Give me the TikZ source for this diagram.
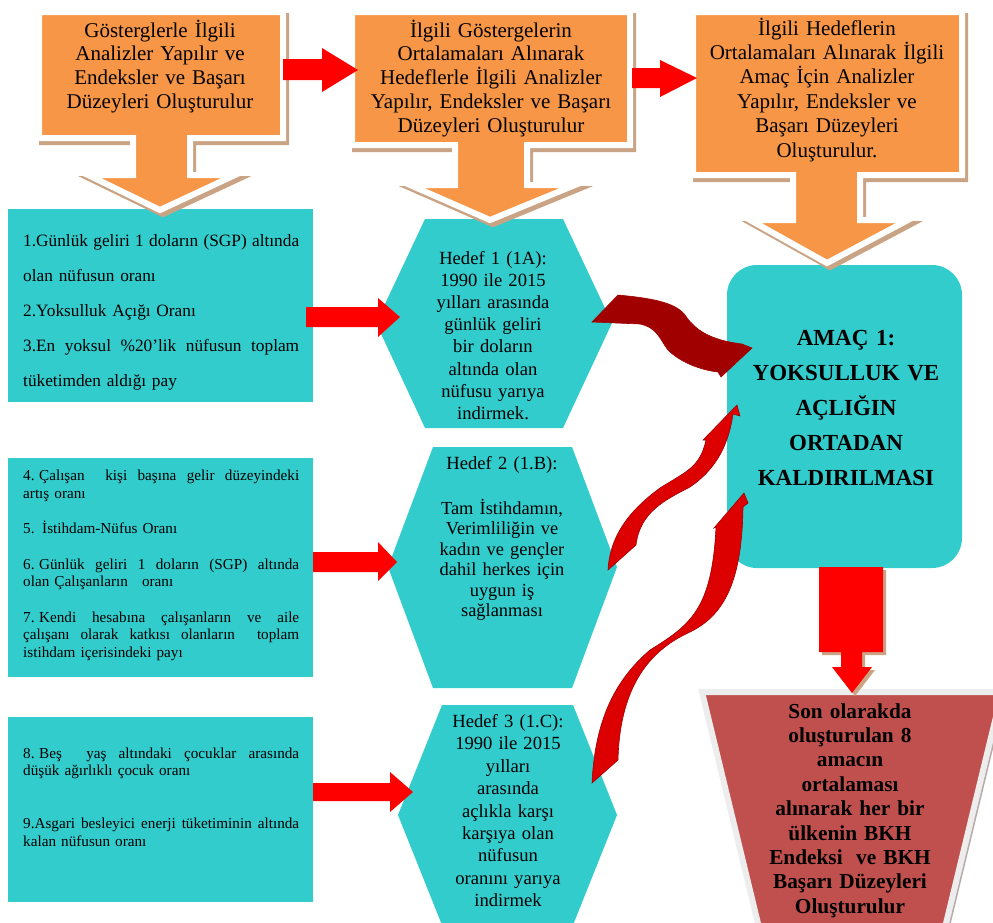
\documentclass[tikz,border=0pt]{standalone}
\usepackage{fontspec}
\setmainfont{Liberation Serif}
\definecolor{orangeC}{HTML}{F79646}
\definecolor{tealC}{HTML}{33CCCC}
\definecolor{tanC}{RGB}{201,163,131}
\definecolor{trapC}{HTML}{C0504D}
\definecolor{redC}{HTML}{FF0000}
\definecolor{ribB}{HTML}{DD0000}
\definecolor{ribD}{HTML}{A00000}
\definecolor{shadowG}{RGB}{185,170,170}
\newcommand{\jline}[1]{\leavevmode\hbox to 276pt{#1}}
\tikzset{
  calloutbox/.style={fill=orangeC, draw=white, line width=6pt, line join=miter},
  calloutshadow/.style={fill=tanC, draw=tanC, line width=6pt, line join=miter},
  tealshape/.style={fill=tealC},
  redarrow/.style={fill=redC},
  ribbonA/.style={draw=ribD, line width=0.6pt, left color=ribD, middle color=ribB, right color=ribD},
  ribbonB/.style={fill=ribB, draw=ribD, line width=0.6pt},
  toptext/.style={font=\fontsize{21}{23.8}\selectfont, align=center, inner sep=0, anchor=base, text width=280pt},
  hextext/.style={font=\fontsize{18.6}{22.1}\selectfont, align=center, inner sep=0, anchor=base, text width=220pt},
  recttext/.style={anchor=base west, align=left, inner sep=0, text width=276pt},
  boldtext/.style={align=center, inner sep=0, anchor=base, text width=250pt}
}
\begin{document}
\begin{tikzpicture}[x=1pt,y=-1pt]
\useasboundingbox (0,0) rectangle (993,922);

% ---------- teal rectangles ----------
\fill[tealshape] (8,209) rectangle (313,402);
\fill[tealshape] (8,458) rectangle (313,677);
\fill[tealshape] (8,717) rectangle (313,902);

% ---------- hexagons ----------
\fill[tealshape] (425,219) -- (563,219) -- (612,323) -- (563,428) -- (425,428) -- (376,323) -- cycle;
\fill[tealshape] (433,447) -- (572,447) -- (617,567) -- (572,688) -- (433,688) -- (388,567) -- cycle;
\fill[tealshape] (442,705) -- (573,705) -- (617,815) -- (573,925) -- (442,925) -- (398,815) -- cycle;

% ---------- goal box ----------
\fill[tealshape, rounded corners=30pt] (727,265) rectangle (962,568);

% ---------- trapezoid ----------
\fill[shadowG, shift={(4,3)}] (702,692) -- (1002,692) -- (942,940) -- (762,940) -- cycle;
\path[fill=trapC, draw=white!93!black, line width=6pt, line join=miter] (702,692) -- (1002,692) -- (942,940) -- (762,940) -- cycle;

% ---------- orange callouts ----------
\path[calloutshadow, shift={(3,4)}] (39,12) -- (283,12) -- (283,138) -- (190,138) -- (190,175) -- (235,175) -- (160,210) -- (88,175) -- (133,175) -- (133,138) -- (39,138) -- cycle;
\path[calloutbox] (39,12) -- (283,12) -- (283,138) -- (190,138) -- (190,175) -- (235,175) -- (160,210) -- (88,175) -- (133,175) -- (133,138) -- (39,138) -- cycle;

\path[calloutshadow, shift={(3,4)}] (352,12) -- (630,12) -- (630,145) -- (527,145) -- (527,185) -- (575,185) -- (490,220) -- (410,185) -- (455,185) -- (455,145) -- (352,145) -- cycle;
\path[calloutbox] (352,12) -- (630,12) -- (630,145) -- (527,145) -- (527,185) -- (575,185) -- (490,220) -- (410,185) -- (455,185) -- (455,145) -- (352,145) -- cycle;

\path[calloutshadow, shift={(3,4)}] (693,12) -- (962,12) -- (962,175) -- (860,175) -- (860,220) -- (908,220) -- (827,263) -- (750,220) -- (793,220) -- (793,175) -- (693,175) -- cycle;
\path[calloutbox] (693,12) -- (962,12) -- (962,175) -- (860,175) -- (860,220) -- (908,220) -- (827,263) -- (750,220) -- (793,220) -- (793,175) -- (693,175) -- cycle;

% ---------- red block arrows ----------
\fill[redarrow] (283,59) -- (322,59) -- (322,48) -- (358,70) -- (322,92) -- (322,80) -- (283,80) -- cycle;
\fill[redarrow] (632,68) -- (660,68) -- (660,60) -- (697,78) -- (660,97) -- (660,88) -- (632,88) -- cycle;
\fill[redarrow] (306,307) -- (378,307) -- (378,298) -- (400,317) -- (378,337) -- (378,327) -- (306,327) -- cycle;
\fill[redarrow] (313,552) -- (378,552) -- (378,542) -- (397,562) -- (378,581) -- (378,572) -- (313,572) -- cycle;
\fill[redarrow] (313,783) -- (390,783) -- (390,772) -- (413,792) -- (390,812) -- (390,801) -- (313,801) -- cycle;

% down arrow from goal to trapezoid
\fill[tanC, shift={(3,3)}] (819,567) -- (883,567) -- (883,652) -- (862,652) -- (862,667) -- (872,667) -- (852,693) -- (832,667) -- (841,667) -- (841,652) -- (819,652) -- cycle;
\fill[redarrow] (819,567) -- (883,567) -- (883,652) -- (862,652) -- (862,667) -- (872,667) -- (852,693) -- (832,667) -- (841,667) -- (841,652) -- (819,652) -- cycle;

% ---------- ribbon arrows ----------
\path[ribbonA] (592,322) -- (618,295) .. controls (650,298) and (675,302) .. (685,315)
  .. controls (695,330) and (710,340) .. (742,344) -- (752,348) -- (721,377) -- (718,372)
  .. controls (700,370) and (680,362) .. (668,350) .. controls (660,340) and (658,328) .. (640,324) -- cycle;
\path[ribbonB] (608,570) .. controls (610,535) and (630,510) .. (660,488)
  .. controls (685,472) and (700,468) .. (706,440) -- (703,440) -- (737,405) -- (740,416) -- (733,414)
  .. controls (728,450) and (712,472) .. (690,487) .. controls (665,500) and (640,512) .. (636,545) -- cycle;
\path[ribbonB] (592,783) .. controls (595,720) and (615,680) .. (650,650)
  .. controls (690,625) and (712,610) .. (716,527) -- (714,528) -- (744,493) -- (748,503) -- (743,507)
  .. controls (742,580) and (725,615) .. (690,632) .. controls (655,648) and (620,680) .. (618,760) -- cycle;

% ---------- texts ----------
\node[toptext, text width=240pt] (c1) at (160,37) {Gösterglerle İlgili\\Analizler Yapılır ve\\Endeksler ve Başarı\\Düzeyleri Oluşturulur};
\node[toptext] (c2) at (491,37) {İlgili Göstergelerin\\Ortalamaları Alınarak\\Hedeflerle İlgili Analizler\\Yapılır, Endeksler ve Başarı\\Düzeyleri Oluşturulur};
\node[toptext, text width=265pt, font=\fontsize{21}{24.4}\selectfont] (c3) at (827,35) {İlgili Hedeflerin\\Ortalamaları Alınarak İlgili\\Amaç İçin Analizler\\Yapılır, Endeksler ve\\Başarı Düzeyleri\\Oluşturulur.};

\node[recttext, font=\fontsize{17.3}{35}\selectfont] (r1) at (23,246.5) {%
\jline{1.Günlük\hfill geliri\hfill 1\hfill doların\hfill (SGP)\hfill altında}\\
olan nüfusun oranı\\
2.Yoksulluk Açığı Oranı\\
\jline{3.En\hfill yoksul\hfill \%20’lik\hfill nüfusun\hfill toplam}\\
tüketimden aldığı pay};

\node[recttext, font=\fontsize{15.2}{17.7}\selectfont] (r2) at (23,480.5) {%
\jline{4.\hspace{0.3em}Çalışan\hfill\hfill kişi\hfill başına\hfill gelir\hfill düzeyindeki}\\
artış oranı\\[17.7pt]
5. İstihdam-Nüfus Oranı\\[17.7pt]
\jline{6.\hspace{0.3em}Günlük\hfill geliri\hfill 1\hfill doların\hfill (SGP)\hfill altında}\\
olan Çalışanların\hspace{0.6em} oranı\\[17.7pt]
\jline{7.\hspace{0.3em}Kendi\hfill hesabına\hfill çalışanların\hfill ve\hfill aile}\\
\jline{çalışanı\hfill olarak\hfill katkısı\hfill olanların\hfill\hfill toplam}\\
istihdam içerisindeki payı};

\node[recttext, font=\fontsize{15.2}{17.7}\selectfont] (r3) at (23,758) {%
\jline{8.\hspace{0.3em}Beş\hfill\hfill yaş\hfill altındaki\hfill çocuklar\hfill arasında}\\
düşük ağırlıklı çocuk oranı\\[35.4pt]
\jline{9.Asgari\hfill besleyici\hfill enerji\hfill tüketiminin\hfill altında}\\
kalan nüfusun oranı};

\node[hextext] (h1) at (493,264.5) {Hedef 1 (1A):\\1990 ile 2015\\yılları arasında\\günlük geliri\\bir doların\\altında olan\\nüfusu yarıya\\indirmek.};
\node[hextext] (h2t) at (502,469.5) {Hedef 2 (1.B):};
\node[hextext, font=\fontsize{18.4}{20.4}\selectfont] (h2) at (502,514.5) {Tam İstihdamın,\\Verimliliğin ve\\kadın ve gençler\\dahil herkes için\\uygun iş\\sağlanması};
\node[hextext, font=\fontsize{18.6}{22.4}\selectfont] (h3) at (508,727.5) {Hedef 3 (1.C):\\1990 ile 2015\\yılları\\arasında\\açlıkla karşı\\karşıya olan\\nüfusun\\oranını yarıya\\indirmek};

\node[boldtext, font=\bfseries\fontsize{23}{35}\selectfont] (goal) at (846,345.5) {AMAÇ 1:\\YOKSULLUK VE\\AÇLIĞIN\\ORTADAN\\KALDIRILMASI};
\node[boldtext, font=\bfseries\fontsize{21.3}{24.4}\selectfont] (final) at (850,718) {Son olarakda\\oluşturulan 8\\amacın\\ortalaması\\alınarak her bir\\ülkenin BKH\\Endeksi\hspace{0.3em} ve BKH\\Başarı Düzeyleri\\Oluşturulur};
\end{tikzpicture}
\end{document}
